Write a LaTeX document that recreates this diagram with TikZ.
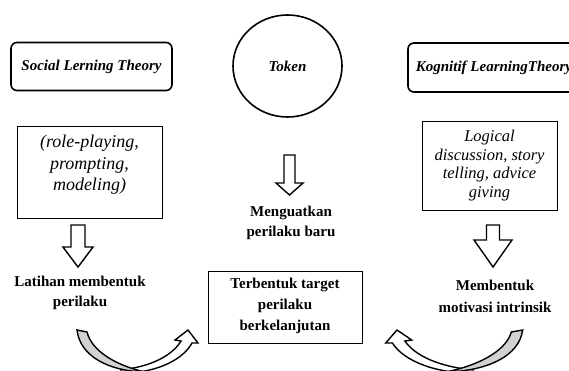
\documentclass[tikz,border=0pt]{standalone}
\usepackage{fontspec}
\setmainfont{Liberation Serif}
\usetikzlibrary{shapes.geometric}
\newcommand\bdarrow[6]{%
  \draw[blockarrow] ({#1-#5},#2) -- ({#1+#5},#2) -- ({#1+#5},#3) -- ({#1+#6},#3)
    -- (#1,#4) -- ({#1-#6},#3) -- ({#1-#5},#3) -- cycle;}
\tikzset{
  theory/.style={draw, line width=1.6pt, rounded corners=6pt, inner sep=0pt,
    font=\fontsize{15}{16}\selectfont\bfseries\itshape},
  methodbox/.style={draw, line width=0.6pt, inner sep=0pt},
  methodtext/.style={align=center, inner sep=0pt},
  result/.style={align=center, inner sep=0pt, font=\fontsize{15}{20}\selectfont\bfseries},
  blockarrow/.style={draw, line width=1.4pt, fill=white, line join=miter},
  ribbon/.style={draw, line width=1.4pt, line join=miter},
}
\begin{document}
\begin{tikzpicture}[x=1pt,y=-1pt]
\useasboundingbox (0,0) rectangle (569,370);
\clip (0,0) rectangle (569,370);
\fill[white] (0,0) rectangle (569,370);

% top row
\node[theory, minimum width=161pt, minimum height=48pt] (slt) at (91.5,66.5) {Social Lerning Theory};
\node[draw, ellipse, line width=1.6pt, minimum width=109pt, minimum height=102pt, inner sep=0pt,
  font=\fontsize{15}{16}\selectfont\bfseries\itshape] (token) at (287.5,66) {Token};
\node[theory, minimum width=172pt, minimum height=49pt] (klt) at (494,67.5) {Kognitif LearningTheory};

% method boxes
\node[methodbox, minimum width=145pt, minimum height=92pt] (lbox) at (89.5,172) {};
\node[methodtext, font=\fontsize{18}{21.5}\selectfont\itshape] (ltext) at (89.5,165)
  {(role-playing,\\prompting,\\modeling)};
\node[methodbox, minimum width=135pt, minimum height=89pt] (rbox) at (489.5,165.5) {};
\node[methodtext, font=\fontsize{16.5}{18.5}\selectfont\itshape] (rtext) at (rbox.center)
  {Logical\\discussion, story\\telling, advice\\giving};

% block arrows
\bdarrow{78}{225}{247}{267}{7}{15}
\bdarrow{289.5}{155}{183}{195}{5.5}{13.5}
\bdarrow{493}{225}{240}{267}{6.5}{19}

% results
\node[result] (latihan) at (80,292.5) {Latihan membentuk\\perilaku};
\node[result] (menguat) at (291,223) {Menguatkan\\perilaku baru};
\node[result, font=\fontsize{15}{22}\selectfont\bfseries] (motiv) at (495,296) {Membentuk\\motivasi intrinsik};

% centre box
\node[methodbox, minimum width=154pt, minimum height=72pt] (target) at (285,307) {};
\node[result, font=\fontsize{15}{21}\selectfont\bfseries] (ttext) at (285,306)
  {Terbentuk target\\perilaku\\berkelanjutan};

% curved arrows
\begin{scope}
  \draw[ribbon, fill=white] (126,373) .. controls (160,372) and (184,358) .. (192,343)
    -- (198,343) -- (188,330) -- (175,340) -- (181,341)
    .. controls (172,356) and (150,367) .. (120,370);
  \draw[ribbon, fill=gray!35] (77,330) .. controls (80,356) and (108,371) .. (145,372)
    .. controls (118,366) and (92,352) .. (87,332) -- cycle;
\end{scope}
\begin{scope}[xshift=609.8pt, xscale=-1.132]
  \draw[ribbon, fill=white] (126,373) .. controls (160,372) and (184,358) .. (192,343)
    -- (198,343) -- (188,330) -- (175,340) -- (181,341)
    .. controls (172,356) and (150,367) .. (120,370);
  \draw[ribbon, fill=gray!35] (77,330) .. controls (80,356) and (108,371) .. (145,372)
    .. controls (118,366) and (92,352) .. (87,332) -- cycle;
\end{scope}
\end{tikzpicture}
\end{document}
